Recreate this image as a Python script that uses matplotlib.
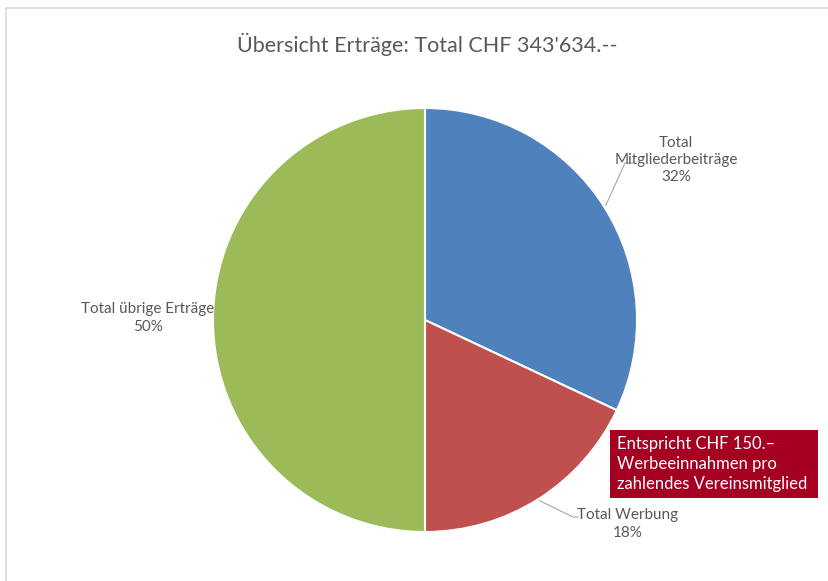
import matplotlib.pyplot as plt
import numpy as np
from matplotlib.patches import Rectangle

# chart data
labels = ["Total\nMitgliederbeiträge", "Total Werbung", "Total übrige Erträge"]
shares = [32, 18, 50]
colors = ["#4F81BD", "#C0504D", "#9BBB59"]
title = "Übersicht Erträge: Total CHF 343'634.--"
note = "Entspricht CHF 150.–\nWerbeeinnahmen pro\nzahlendes Vereinsmitglied"

W, H = 829, 581
plt.rcParams["font.family"] = ["Lato", "DejaVu Sans"]
fig = plt.figure(figsize=(W / 100, H / 100), dpi=100)

# light frame of the original chart area
fig.patches.append(Rectangle((6 / W, -0.05), 1.1, (H - 8) / H + 0.05, transform=fig.transFigure,
                             fill=False, edgecolor="#d9d9d9", linewidth=1.2))

cx, cy, r = 425, 320, 212
ax = fig.add_axes([(cx - r) / W, 1 - (cy + r) / H, 2 * r / W, 2 * r / H])
wedges, _ = ax.pie(shares, colors=colors, startangle=90, counterclock=False,
                   wedgeprops=dict(edgecolor="white", linewidth=1.5))
ax.set_xlim(-1, 1)
ax.set_ylim(-1, 1)
ax.set_aspect("equal")
ax.axis("off")

def px(x, y):
    return (x - cx) / r, (cy - y) / r

gray = "#595959"
fs = 11

# label positions in pixel space, leader elbow
pos = [(676, 160), (628, 524), (148, 318)]
for i, (w, lab, val) in enumerate(zip(wedges, labels, shares)):
    x, y = px(*pos[i])
    ax.text(x, y, f"{lab}\n{val}%", ha="center", va="center", fontsize=fs, color=gray,
            linespacing=1.3, clip_on=False)
    ang = np.deg2rad((w.theta1 + w.theta2) / 2)
    sx, sy = 1.01 * np.cos(ang), 1.01 * np.sin(ang)
    if i == 0:
        ex, ey = px(625, 163)
        ax.plot([sx, ex, ex + 8 / r], [sy, ey, ey], color="#a6a6a6", lw=0.8, clip_on=False)
    elif i == 1:
        ex, ey = px(573, 517)
        ax.plot([sx, ex, ex + 5 / r], [sy, ey, ey], color="#a6a6a6", lw=0.8, clip_on=False)

fig.text(427 / W, 1 - 44 / H, title, ha="center", va="center", fontsize=15.5, color=gray)

# red note box
bx0, by0, bx1, by1 = 610, 430, 818, 498
fig.patches.append(Rectangle((bx0 / W, 1 - by1 / H), (bx1 - bx0) / W, (by1 - by0) / H,
                             transform=fig.transFigure, facecolor="#A50021", edgecolor="none"))
fig.text(617 / W, 1 - 464 / H, note, ha="left", va="center", fontsize=12, color="white",
         linespacing=1.3)

fig.savefig("out.png", dpi=100)
